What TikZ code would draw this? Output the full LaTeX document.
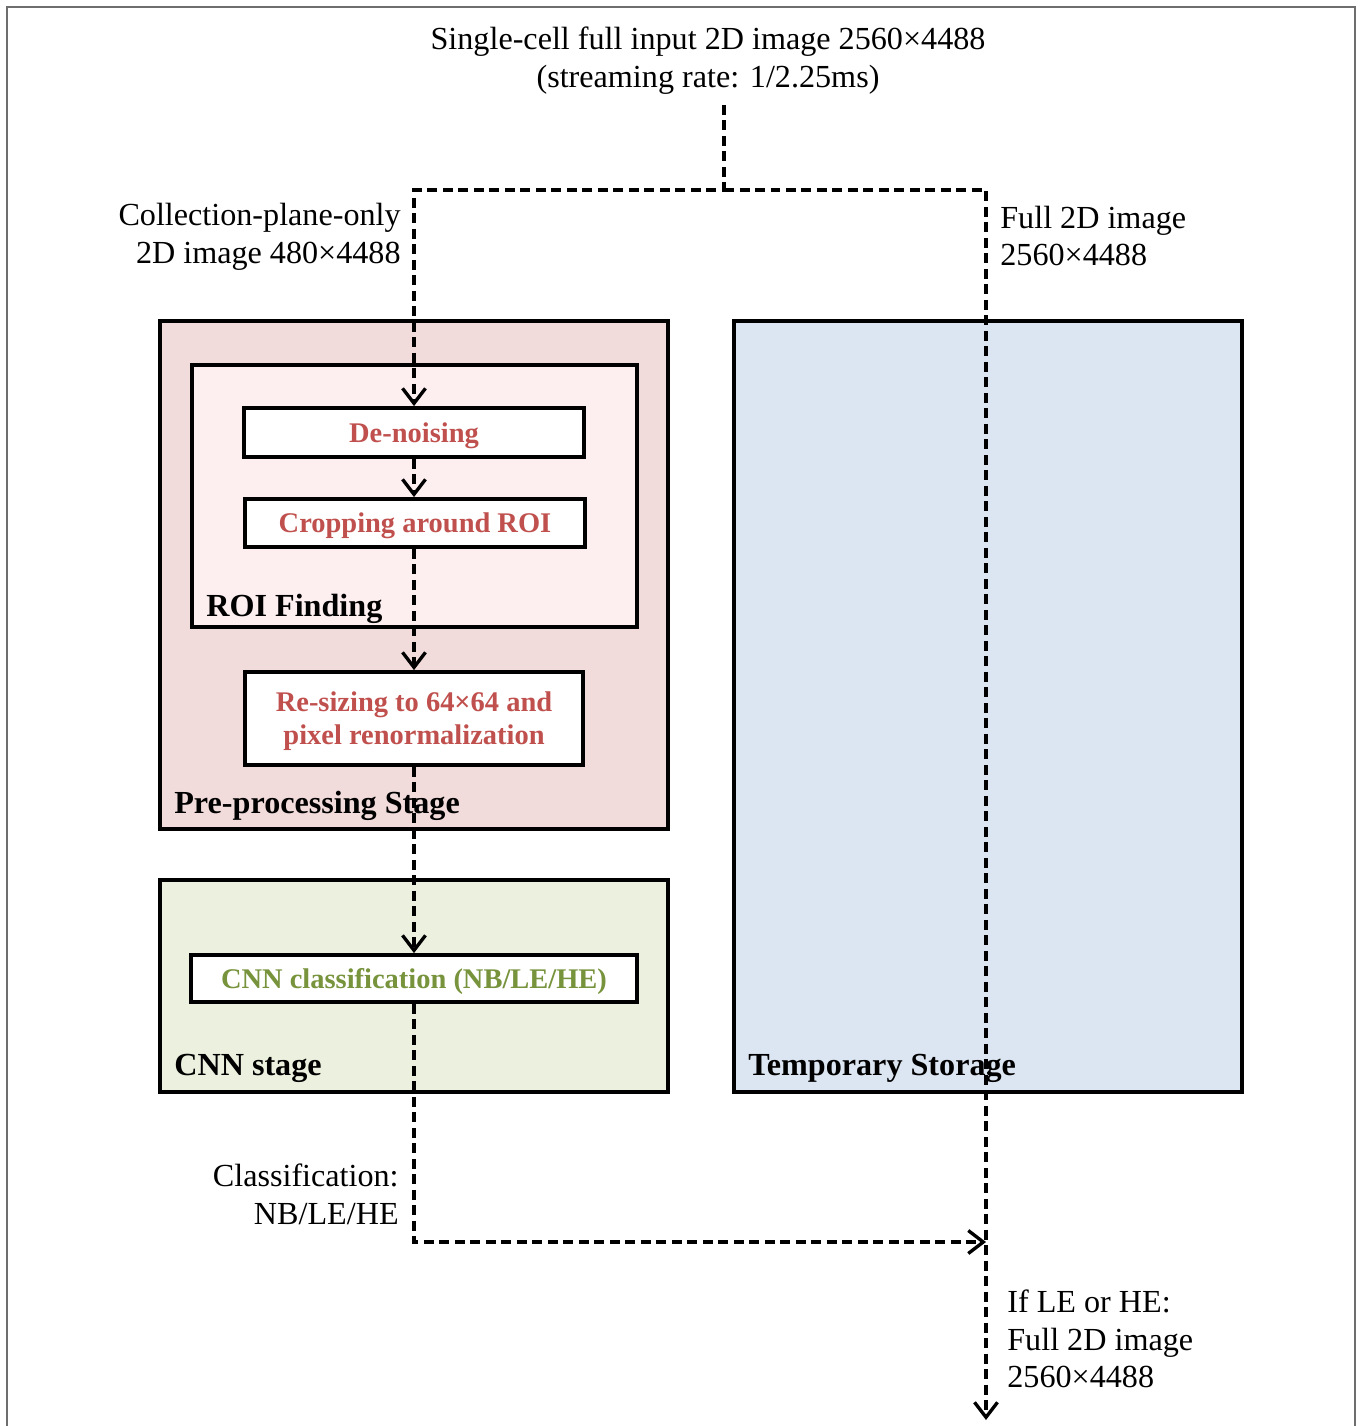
\documentclass[tikz,border=0pt]{standalone}
\usepackage{fontspec}
\setmainfont{Liberation Serif}
\usetikzlibrary{arrows.meta}
\definecolor{prefill}{HTML}{F2DCDB}
\definecolor{roifill}{HTML}{FDEEF0}
\definecolor{cnnfill}{HTML}{EBF1DE}
\definecolor{tmpfill}{HTML}{DCE6F2}
\definecolor{redtxt}{HTML}{C0504D}
\definecolor{greentxt}{HTML}{77933C}
\definecolor{framegray}{HTML}{6E6E6E}
\newcommand{\plainfont}{\fontsize{18.3pt}{21.5pt}\selectfont}
\newcommand{\boxfont}{\fontsize{16.2pt}{18.8pt}\selectfont\bfseries}
\begin{document}
\begin{tikzpicture}[x=0.02cm,y=-0.02cm,
  stagebox/.style={draw=black, line width=2.2pt, inner sep=0pt},
  procbox/.style={draw=black, line width=2.2pt, fill=white, inner sep=0pt, text depth=0pt, font=\boxfont, align=center},
  stagelabel/.style={inner sep=0pt, anchor=base west, font=\plainfont\bfseries},
  plainlabel/.style={inner sep=0pt, font=\plainfont},
  flow/.style={draw=black, line width=1.9pt, dash pattern=on 0.2cm off 0.11cm},
  arr/.style={-{Straight Barb[length=0.3cm,width=0.46cm]}}
]
\useasboundingbox (0,0) rectangle (1362,1426);
\fill[white] (0,0) rectangle (1362,1426);
% outer frame
\draw[framegray, line width=1.3pt] (7,1440) -- (7,7) -- (1355,7) -- (1355,1440);

% stage boxes
\node[stagebox, fill=prefill, minimum width=10.16cm, minimum height=10.16cm] (pre) at (414,575) {};
\node[stagebox, fill=roifill, minimum width=8.9cm, minimum height=5.24cm] (roi) at (414.5,496) {};
\node[stagebox, fill=cnnfill, minimum width=10.16cm, minimum height=4.24cm] (cnn) at (414,986) {};
\node[stagebox, fill=tmpfill, minimum width=10.16cm, minimum height=15.42cm] (tmp) at (988,706.5) {};

% process boxes
\node[procbox, text=redtxt, minimum width=6.8cm, minimum height=0.98cm] (den) at (414,432.5) {De-noising};
\node[procbox, text=redtxt, minimum width=6.8cm, minimum height=0.96cm] (crop) at (415,523) {Cropping around ROI};
\node[procbox, text=redtxt, minimum width=6.76cm, minimum height=1.86cm] (res) at (414,718.5) {Re-sizing to 64×64 and\\pixel renormalization};
\node[procbox, text=greentxt, minimum width=8.92cm, minimum height=0.94cm] (cls) at (414,978.5) {CNN classification (NB/LE/HE)};

% stage labels
\node[stagelabel] (roilbl) at (206,616) {ROI Finding};
\node[stagelabel] (prelbl) at (174,813) {Pre-processing Stage};
\node[stagelabel] (cnnlbl) at (174,1075) {CNN stage};
\node[stagelabel] (tmplbl) at (748,1075) {Temporary Storage};

% plain labels
\node[plainlabel, align=center] (title) at (708,61) {Single-cell full input 2D image 2560×4488\\(streaming rate: 1/2.25ms)};
\node[plainlabel, align=right, anchor=east] (colllbl) at (401,237) {Collection-plane-only\\2D image 480×4488};
\node[plainlabel, align=left, anchor=west] (fulllbl) at (1000,236) {Full 2D image\\2560×4488};
\node[plainlabel, align=right, anchor=east] (clslbl) at (399,1194) {Classification:\\NB/LE/HE};
\node[plainlabel, align=left, anchor=west] (iflbl) at (1007,1339) {If LE or HE:\\Full 2D image\\2560×4488};

% connectors
\coordinate (src) at (724,105);
\coordinate (junc) at (724,190);
\coordinate (outc) at (986,1420);
\coordinate (merge) at (986,1242);
\draw[flow, arr] (src) -- (junc) -| (den.north);
\draw[flow, arr] (junc) -| (outc);
\draw[flow, arr] (den.south) -- (den.south |- crop.north);
\draw[flow, arr] (crop.south -| den.south) -- (den.south |- res.north);
\draw[flow, arr] (den.south |- res.south) -- (den.south |- cls.north);
\draw[flow, arr] (den.south |- cls.south) |- (merge);
\end{tikzpicture}
\end{document}
